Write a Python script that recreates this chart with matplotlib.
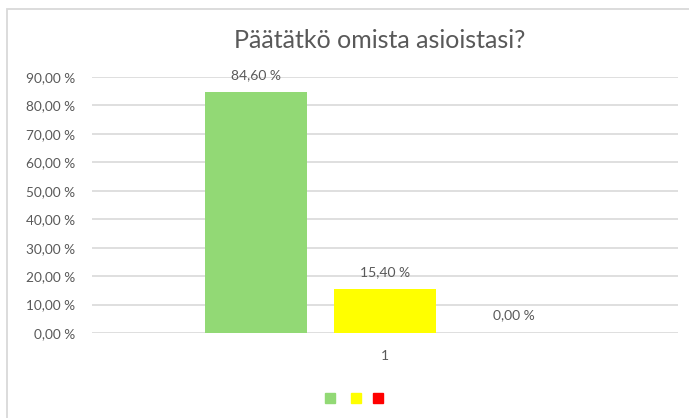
import matplotlib
matplotlib.use("Agg")
from matplotlib import pyplot as plt
from matplotlib.patches import Rectangle
import numpy as np

# data
title = "Päätätkö omista asioistasi?"
category = "1"
values = [84.6, 15.4, 0.0]
colors = ["#92d975", "#ffff00", "#ff0000"]
yticks = [0, 10, 20, 30, 40, 50, 60, 70, 80, 90]

plt.rcParams['font.family'] = ['Lato', 'DejaVu Sans']
text_col = "#595959"
grid_col = "#d9d9d9"

fig = plt.figure(figsize=(6.89, 4.18), dpi=100)
W, H = 689, 418

# outer chart border (Excel chart area)
fig.patches.append(Rectangle((6.5 / W, -0.1), 2.0, 1 - 9.5 / H + 0.1,
                             transform=fig.transFigure, fill=False,
                             edgecolor=grid_col, linewidth=1.3))

# plot area in pixel coords
x0, x1 = 92, 678
y_top, y_zero = 77, 333
ax = fig.add_axes([x0 / W, 1 - y_zero / H, (x1 - x0) / W, (y_zero - y_top) / H])
ax.set_ylim(0, 90)
ax.set_xlim(-0.5, 0.5)

bar_w = 102 / (x1 - x0)
gap = 27 / (x1 - x0)
center = (385 - x0) / (x1 - x0) - 0.5
offsets = [center - bar_w - gap, center, center + bar_w + gap]
lab_off = 17.5 * 90 / (y_zero - y_top)
for off, v, c in zip(offsets, values, colors):
    ax.bar(off, v, width=bar_w, color=c, zorder=3)
    ax.text(off, v + lab_off, f"{v:.2f} %".replace(".", ","), ha="center", va="center",
            fontsize=10, color=text_col)

ax.set_yticks(yticks)
ax.set_yticklabels([f"{t:.2f} %".replace(".", ",") for t in yticks], fontsize=9.8, color=text_col)
ax.tick_params(axis="y", length=0, pad=12)
ax.set_xticks([center])
ax.set_xticklabels([category], fontsize=10, color=text_col)
ax.tick_params(axis="x", length=0, pad=12)
ax.grid(axis="y", color=grid_col, linewidth=1.2, zorder=0)
for s in ax.spines.values():
    s.set_visible(False)

fig.text(380 / W, 1 - 41 / H, title, ha="center", va="center", fontsize=18, color=text_col)

# legend squares without labels
for xs, c in zip([330, 356, 378], colors):
    fig.patches.append(Rectangle(((xs - 5) / W, 1 - 403 / H), 10 / W, 10 / H,
                                 transform=fig.transFigure, color=c))

fig.savefig("out.png", dpi=100)
